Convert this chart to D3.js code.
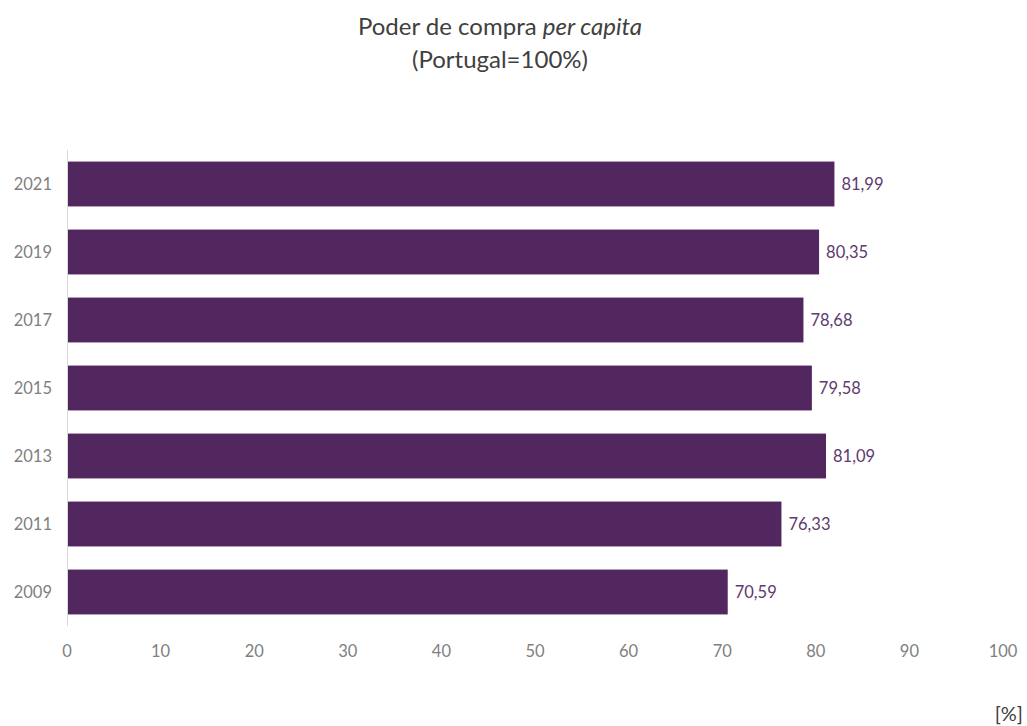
<!DOCTYPE html>
<html><head><meta charset="utf-8">
<script src="https://cdn.jsdelivr.net/npm/d3@7"></script>
<style>body{margin:0;background:#fff;} svg{display:block;}</style>
</head><body>
<svg id="c" width="1027" height="726"></svg>
<script>
const years = ["2021","2019","2017","2015","2013","2011","2009"];
const values = [81.99, 80.35, 78.68, 79.58, 81.09, 76.33, 70.59];
const xTicks = [0,10,20,30,40,50,60,70,80,90,100];

const svg = d3.select("#c");
const font = "Lato, 'Open Sans', sans-serif";
const x = d3.scaleLinear().domain([0,100]).range([67,1003]);
const y = d3.scaleBand().domain(years).range([150,626]).paddingInner(0.34).paddingOuter(0.17);

// title
const t = svg.append("text").attr("x",500).attr("y",35).attr("text-anchor","middle")
  .attr("font-family",font).attr("font-size",24).attr("fill","#404040");
t.append("tspan").text("Poder de compra ");
t.append("tspan").attr("font-style","italic").text("per capita");
svg.append("text").attr("x",500).attr("y",68).attr("text-anchor","middle")
  .attr("font-family",font).attr("font-size",24).attr("fill","#404040").text("(Portugal=100%)");

// bars
svg.selectAll("rect.bar").data(years).enter().append("rect")
  .attr("x",x(0)).attr("y",d=>y(d)).attr("width",(d,i)=>x(values[i])-x(0))
  .attr("height",y.bandwidth()).attr("fill","#52275f");

// value labels
svg.selectAll("text.val").data(years).enter().append("text")
  .attr("x",(d,i)=>x(values[i])+7).attr("y",d=>y(d)+y.bandwidth()/2)
  .attr("dy","0.35em").attr("font-family",font).attr("font-size",16.5).attr("fill","#5e3a6e")
  .text((d,i)=>values[i].toFixed(2).replace(".",","));

// y axis line
svg.append("line").attr("x1",x(0)+0.5).attr("x2",x(0)+0.5).attr("y1",150).attr("y2",626)
  .attr("stroke","#d9d9d9").attr("stroke-width",1);

// y labels
svg.selectAll("text.yl").data(years).enter().append("text")
  .attr("x",52).attr("y",d=>y(d)+y.bandwidth()/2).attr("dy","0.35em")
  .attr("text-anchor","end").attr("font-family",font).attr("font-size",16.5).attr("fill","#7f7f7f")
  .text(d=>d);

// x tick labels
svg.selectAll("text.xl").data(xTicks).enter().append("text")
  .attr("x",d=>x(d)).attr("y",651).attr("dy","0.35em")
  .attr("text-anchor","middle").attr("font-family",font).attr("font-size",16.5).attr("fill","#7f7f7f")
  .text(d=>d);

// unit
svg.append("text").attr("x",1023).attr("y",714).attr("dy","0.35em").attr("text-anchor","end")
  .attr("font-family",font).attr("font-size",20).attr("fill","#404040").text("[%]");
</script>
</body></html>
